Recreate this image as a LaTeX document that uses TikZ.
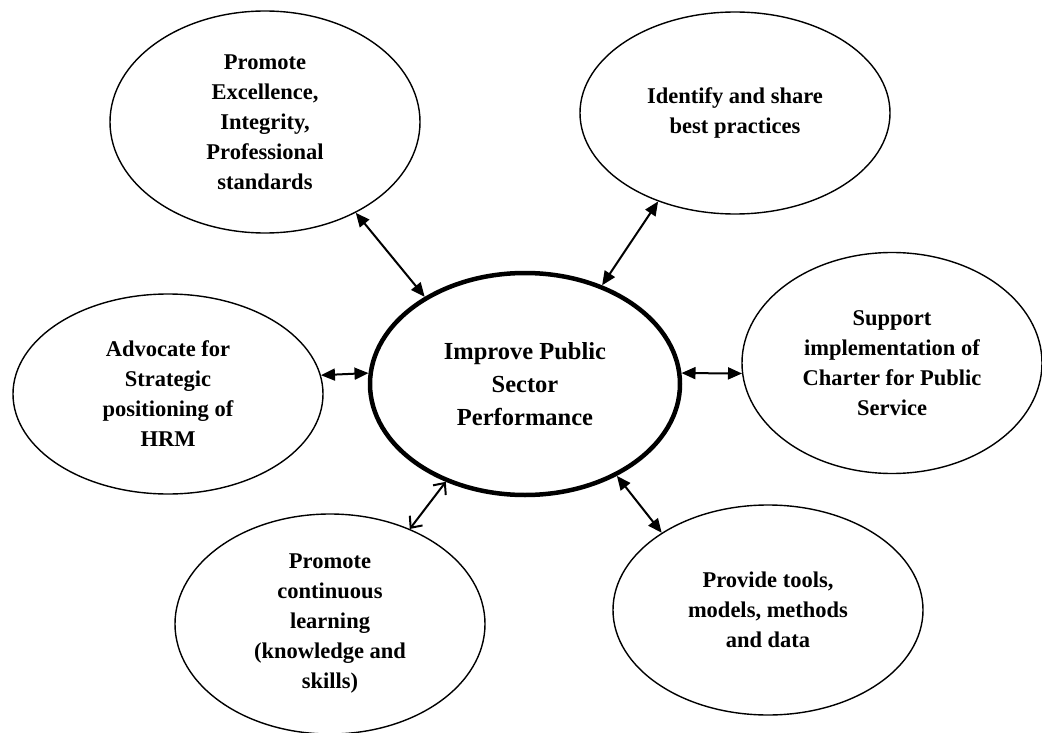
\documentclass[tikz,border=0pt]{standalone}
\usepackage{fontspec}
\setmainfont{Liberation Serif}
\usetikzlibrary{shapes.geometric,arrows.meta}
\begin{document}
\begin{tikzpicture}[x=1pt,y=-1pt,
  bubble/.style={ellipse, draw, line width=1.4pt, inner sep=0pt, align=center,
    font=\fontsize{22.5}{30}\selectfont\bfseries},
  hub/.style={ellipse, draw, line width=4.5pt, inner sep=0pt, align=center,
    font=\fontsize{24.5}{33}\selectfont\bfseries},
  link/.style={line width=2pt, {Triangle[length=14pt,width=12pt]}-{Triangle[length=14pt,width=12pt]}},
  openlink/.style={line width=2pt, {Straight Barb[length=9pt,width=16pt]}-{Straight Barb[length=9pt,width=16pt]}}]
\useasboundingbox (0,0) rectangle (1042,733);
\node[hub, minimum width=310pt, minimum height=222pt] (perf) at (525,384){Improve Public\\Sector\\Performance};
\node[bubble, minimum width=310pt, minimum height=222pt] (excel) at (265,122){Promote\\Excellence,\\Integrity,\\Professional\\standards};
\node[bubble, minimum width=310pt, minimum height=202pt] (best) at (735,113){Identify and share\\best practices};
\node[bubble, minimum width=310pt, minimum height=200pt] (hrm) at (168,394){Advocate for\\Strategic\\positioning of\\HRM};
\node[bubble, minimum width=300pt, minimum height=221pt] (charter) at (892,363){Support\\implementation of\\Charter for Public\\Service};
\node[bubble, minimum width=310pt, minimum height=220pt] (learn) at (330,624){Promote\\continuous\\learning\\(knowledge and\\skills)};
\node[bubble, minimum width=310pt, minimum height=210pt] (tools) at (768,610){Provide tools,\\models, methods\\and data};
\draw[link](excel.-45) -- (perf.139);
\draw[link](best.-131) -- (perf.52);
\draw[link](hrm.7) -- (perf.176);
\draw[link](perf.4) -- (charter.184);
\draw[openlink](perf.-129) -- (learn.50);
\draw[link](perf.-45) -- (tools.144);
\end{tikzpicture}
\end{document}
